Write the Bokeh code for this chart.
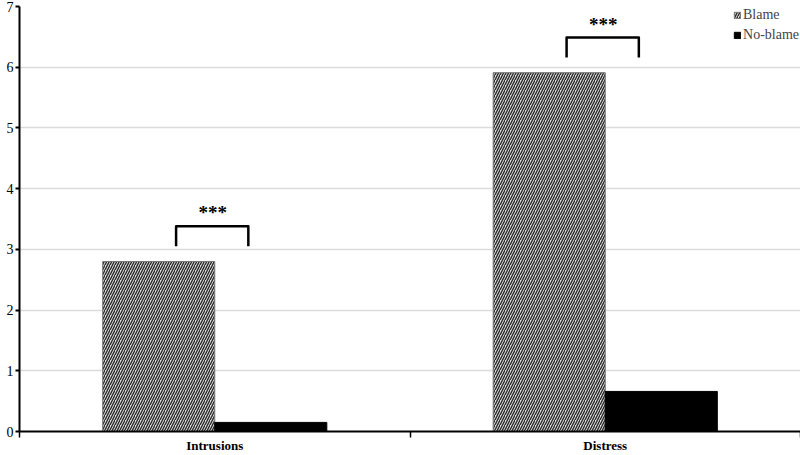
import numpy as np
from bokeh.plotting import figure
from bokeh.models import (Range1d, FixedTicker, ColumnDataSource, Legend, LegendItem)
from bokeh.core.properties import value
from bokeh.transform import dodge
from bokeh.embed import file_html
from bokeh.resources import INLINE

# ---- data ----
categories = ["Intrusions", "Distress"]
blame = [2.8, 5.91]
no_blame = [0.15, 0.66]
significance = ["***", "***"]
y_ticks = [0, 1, 2, 3, 4, 5, 6, 7]

SERIF = "Liberation Serif"

centers = np.arange(len(categories)) + 0.5
bw = 0.287

p = figure(width=800, height=455, output_backend="svg", toolbar_location=None,
           x_range=Range1d(0, 2), y_range=Range1d(0, 7),
           min_border_left=19, min_border_right=0, min_border_top=6, min_border_bottom=0)
p.outline_line_color = None
p.background_fill_color = "white"
p.border_fill_color = "white"

src = ColumnDataSource(dict(c=centers, blame=blame, nb=no_blame, cat=categories))

r_blame = p.vbar(x=dodge("c", -bw / 2), top="blame", width=bw, bottom=0, source=src,
                 fill_color="#e0e0e0", line_color="#777777", line_width=1,
                 hatch_pattern="/", hatch_color="#2a2a2a", hatch_scale=5, hatch_weight=1.4)
r_nb = p.vbar(x=dodge("c", bw / 2), top="nb", width=bw, bottom=0, source=src,
              fill_color="black", line_color="black")

# significance brackets
b_lo = [v + 0.25 for v in blame]
b_hi = [v + 0.58 for v in blame]
xs = [[c - 0.099, c - 0.099, c + 0.086, c + 0.086] for c in centers]
ys = [[lo, hi, hi, lo] for lo, hi in zip(b_lo, b_hi)]
p.multi_line(xs=xs, ys=ys, line_color="black", line_width=2.5, line_join="round")
p.text(x=[c - 0.005 for c in centers], y=[v + 0.8 for v in blame], text=significance,
       text_font=value(SERIF), text_font_style="bold", text_font_size="19px",
       text_align="center", text_baseline="middle", text_color="black")

# axes
p.yaxis.ticker = FixedTicker(ticks=y_ticks)
p.yaxis.axis_line_width = 2
p.yaxis.axis_line_color = "black"
p.yaxis.major_tick_out = 4
p.yaxis.major_tick_in = 0
p.yaxis.major_tick_line_width = 2
p.yaxis.minor_tick_line_color = None
p.yaxis.major_label_standoff = 2
p.yaxis.major_label_text_font = SERIF
p.yaxis.major_label_text_font_size = "14px"
p.yaxis.major_label_text_color = "black"

p.xaxis.ticker = FixedTicker(ticks=list(centers), minor_ticks=[0, 1, 2])
p.xaxis.major_label_overrides = {float(c): cat for c, cat in zip(centers, categories)}
p.xaxis.axis_line_width = 2
p.xaxis.axis_line_color = "black"
p.xaxis.major_tick_out = 0
p.xaxis.major_tick_in = 0
p.xaxis.minor_tick_out = 6
p.xaxis.minor_tick_in = 0
p.xaxis.minor_tick_line_width = 1.5
p.xaxis.minor_tick_line_color = "black"
p.xaxis.major_label_standoff = 0
p.xaxis.major_label_text_font = SERIF
p.xaxis.major_label_text_font_style = "bold"
p.xaxis.major_label_text_font_size = "13px"
p.xaxis.major_label_text_color = "black"
p.xaxis.axis_label = None

p.xgrid.grid_line_color = None
p.ygrid.ticker = FixedTicker(ticks=y_ticks)
p.ygrid.grid_line_color = "#dcdcdc"
p.ygrid.grid_line_width = 1.5

legend = Legend(items=[LegendItem(label="Blame", renderers=[r_blame]),
                       LegendItem(label="No-blame", renderers=[r_nb])],
                location="top_right")
legend.border_line_color = None
legend.background_fill_alpha = 0
legend.label_text_font = SERIF
legend.label_text_font_size = "14px"
legend.label_standoff = 2
legend.glyph_width = 8
legend.glyph_height = 8
legend.spacing = 4
legend.padding = 0
legend.margin = 1
legend.label_height = 16
p.add_layout(legend)

open("out.html", "w").write(file_html(p, INLINE))
